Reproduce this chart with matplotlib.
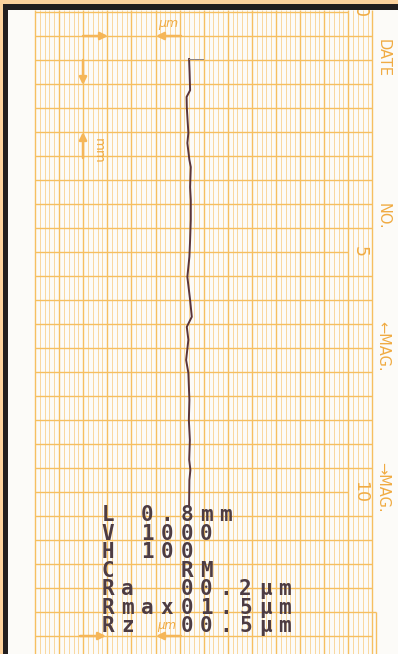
import matplotlib
matplotlib.use("Agg")
import matplotlib.pyplot as plt
from matplotlib.patches import Rectangle
from matplotlib.transforms import Affine2D
import numpy as np

# ---------------- data ----------------
# profile trace: position along traverse (chart units, 0..10 printed on the paper)
trace_pos = [0.98, 1.25, 1.63, 1.77, 1.98, 2.25, 2.52, 2.73, 3.08, 3.23, 3.65, 3.92,
             4.33, 4.75, 5.10, 5.52, 6.00, 6.35, 6.56, 6.83, 7.25, 7.52, 8.08, 8.50,
             8.92, 9.33, 9.54, 9.75, 10.27]
# lateral deflection of the stylus trace, in minor chart divisions from the left grid edge
trace_dev = [31.97, 32.07, 32.18, 31.45, 31.49, 31.65, 31.82, 31.61, 32.03, 32.32, 32.18, 32.32,
             32.32, 32.18, 32.03, 31.61, 32.18, 32.53, 31.49, 31.82, 31.35, 31.82, 32.03, 31.92,
             32.13, 31.99, 32.24, 32.03, 31.97]
start_tick = [31.97, 34.87]          # short pen-lift tick at the start (divisions)

scale_labels = ["0", "5", "10"]      # printed scale numbers
scale_values = [0, 5, 10]
side_labels = ["DATE", "NO.", "\u2190MAG.", "\u2192MAG."]

print_lines = ["L 0.8mm", "V 1000", "H 100", "C   RM",
               "Ra  00.2\u03bcm", "Rmax01.5\u03bcm", "Rz  00.5\u03bcm"]

# ---------------- layout / style ----------------
W, H = 398, 654
X0, Y0 = 35.0, 12.0          # grid origin (px)
MINOR = 4.82                 # px per minor division
UNIT = 48.0                  # px per printed scale unit
NDIV = 70
XR = X0 + MINOR * NDIV

paper = "#fcfbf8"
major_c = "#f6bf60"
minor_c = "#f9d598"
orange_txt = "#f0ab42"
ink = "#4d3c43"
pen = "#5a3438"

fig = plt.figure(figsize=(W / 100, H / 100), dpi=100)
fig.patch.set_facecolor(paper)
ax = fig.add_axes([0, 0, 1, 1])
ax.set_xlim(0, W)
ax.set_ylim(H, 0)
ax.axis("off")
ax.set_facecolor(paper)

chart = Affine2D().scale(MINOR, UNIT).translate(X0, Y0) + ax.transData

# grid
xs = X0 + MINOR * np.arange(NDIV + 1)
minor_x = [x for i, x in enumerate(xs) if i % 5]
major_x = [x for i, x in enumerate(xs) if i % 5 == 0]
ax.vlines(minor_x, 10, H, colors=minor_c, lw=0.65, zorder=1)
ax.vlines(major_x, 10, H, colors=major_c, lw=1.0, zorder=1)
for k in range(27):
    y = Y0 + 24 * k
    xend = 348 if k in (0, 10, 20) else XR
    if k == 25:
        xend = 376
    ax.hlines(y, X0, xend, colors=major_c, lw=1.0, zorder=1)
ax.vlines(376, 612, H, colors=major_c, lw=1.0, zorder=1)

# printed scale numbers and side labels
for lab, v in zip(scale_labels, scale_values):
    ax.text(360, Y0 + v * UNIT, lab, rotation=-90, ha="center", va="center",
            fontsize=12.5, color=orange_txt, family="DejaVu Sans", zorder=2)
for lab, yc in zip(side_labels, [58, 216, 346, 487]):
    ax.text(383, yc, lab, rotation=-90, ha="center", va="center",
            fontsize=10.5, color=orange_txt, family="DejaVu Sans", zorder=2)

# orange direction arrows and unit marks
aprops = dict(arrowstyle="-|>", color="#f5b658", lw=1.8, mutation_scale=11,
              shrinkA=0, shrinkB=0)
for tail, head in [((83, 36), (108, 36)), ((181, 36), (156, 36)),
                   ((83, 60), (83, 85)), ((83, 158), (83, 132)),
                   ((80, 636), (106, 636)), ((181, 636), (156, 636))]:
    ax.annotate("", xy=head, xytext=tail, arrowprops=aprops, zorder=3)
ax.text(168, 23, "\u03bcm", ha="center", va="center", fontsize=9,
        color=orange_txt, style="italic", zorder=3)
ax.text(167, 625, "\u03bcm", ha="center", va="center", fontsize=8.5,
        color=orange_txt, style="italic", zorder=3)
ax.text(98, 151, "mm", rotation=-90, ha="center", va="center", fontsize=9.5,
        color=orange_txt, zorder=3)

# stylus trace
ax.plot(trace_dev, trace_pos, color=pen, lw=1.4, transform=chart, zorder=4,
        solid_joinstyle="round")
ax.plot(start_tick, [trace_pos[0], trace_pos[0]], color="#8a8286", lw=0.7,
        transform=chart, zorder=4)

# printer output (fixed pitch)
col0, pitch = 108.0, 19.65
row0, rpitch = 521.0, 18.55
for r, line in enumerate(print_lines):
    for c, ch in enumerate(line):
        if ch == " ":
            continue
        ax.text(col0 + c * pitch, row0 + r * rpitch, ch, ha="center", va="baseline",
                fontsize=15, color=ink, family="DejaVu Sans Mono", weight="bold",
                zorder=5)

# photo edges: orange background and black frame
ax.add_patch(Rectangle((0, 0), W, 4, color="#fdd29d", zorder=10, lw=0))
ax.add_patch(Rectangle((0, 4), W, 5.5, color="#221e1f", zorder=10, lw=0))
ax.add_patch(Rectangle((0, 0), 3, H, color="#fdd29d", zorder=10, lw=0))
ax.add_patch(Rectangle((3, 4), 5, H, color="#221e1f", zorder=10, lw=0))

fig.savefig("out.png", dpi=100, facecolor=paper)
